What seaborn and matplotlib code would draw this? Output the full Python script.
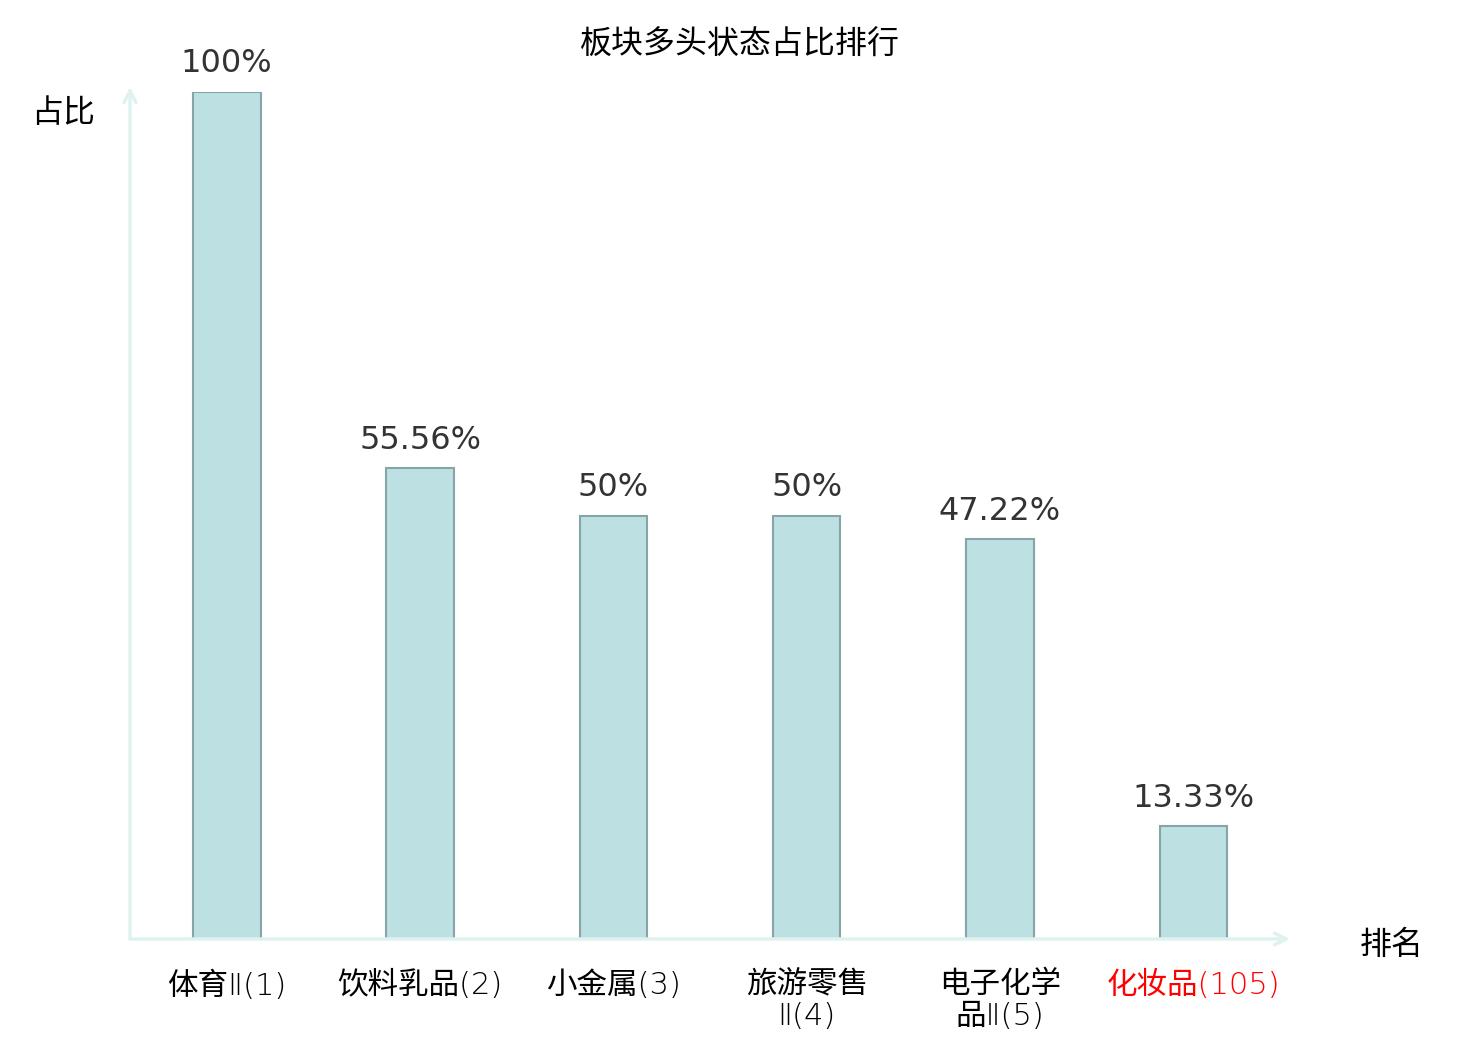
import matplotlib
matplotlib.use("Agg")
import matplotlib.pyplot as plt
import seaborn as sns
import pandas as pd

categories = ["体育Ⅱ(1)", "饮料乳品(2)", "小金属(3)", "旅游零售\nⅡ(4)", "电子化学\n品Ⅱ(5)", "化妆品(105)"]
values = [100, 55.56, 50, 50, 47.22, 13.33]
value_labels = ["100%", "55.56%", "50%", "50%", "47.22%", "13.33%"]
label_colors = ["black", "black", "black", "black", "black", "red"]
title = "板块多头状态占比排行"
y_name = "占比"
x_name = "排名"

sns.set_theme(style="white")
plt.rcParams['font.family'] = ['Noto Sans CJK SC', 'DejaVu Sans']

df = pd.DataFrame({"cat": categories, "val": values})

fig = plt.figure(figsize=(14.8, 10.4), dpi=100)
ax = fig.add_axes([130/1480, 1 - 939/1040, (1290-130)/1480, (939-92)/1040])

sns.barplot(data=df, x="cat", y="val", color="#bde0e3", saturation=1,
            edgecolor="#88a4a6", linewidth=1.5, width=0.35, ax=ax)
ax.set_xlim(-0.5, 5.5)
ax.set_ylim(0, 100)
for s in ax.spines.values():
    s.set_visible(False)
ax.set_yticks([])
ax.set_xlabel("")
ax.set_ylabel("")
ax.tick_params(axis="x", length=0, pad=22.5)
ax.set_xticks(range(len(categories)))
ax.set_xticklabels(categories, fontsize=22, linespacing=1.12, va="top",
                   family=['DejaVu Sans', 'Noto Sans CJK SC'], fontweight='light')
for t, c in zip(ax.get_xticklabels(), label_colors):
    t.set_color(c)

for i, (v, lab) in enumerate(zip(values, value_labels)):
    ax.annotate(lab, xy=(i, v), xytext=(0, 9), textcoords="offset points",
                ha="center", va="bottom", fontsize=23, color="#333333",
                family="DejaVu Sans")

axis_color = "#dff2ef"
ax.annotate("", xy=(0, 1.006), xytext=(0, 0), xycoords="axes fraction",
            arrowprops=dict(arrowstyle="->,head_length=0.7,head_width=0.35",
                            color=axis_color, lw=2.5, shrinkA=0, shrinkB=0),
            annotation_clip=False)
ax.annotate("", xy=(1.0, 0), xytext=(0, 0), xycoords="axes fraction",
            arrowprops=dict(arrowstyle="->,head_length=0.7,head_width=0.35",
                            color=axis_color, lw=2.5, shrinkA=0, shrinkB=0),
            annotation_clip=False)

fig.text(740/1480, 1 - 45/1040, title, ha="center", va="center", fontsize=23, color="black")
fig.text(63/1480, 1 - 113/1040, y_name, ha="center", va="center", fontsize=23, color="black")
fig.text(1392/1480, 1 - 945/1040, x_name, ha="center", va="center", fontsize=23, color="black")

fig.savefig("out.png", dpi=100)
